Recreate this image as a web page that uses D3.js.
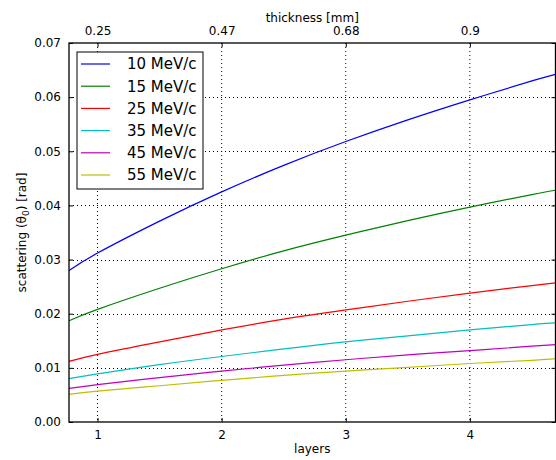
<!DOCTYPE html>
<html>
<head>
<meta charset="utf-8">
<script src="https://cdn.jsdelivr.net/npm/d3@7"></script>
<style>
  html, body { margin: 0; padding: 0; background: #fff; }
  svg { display: block; font-family: "DejaVu Sans", sans-serif; }
</style>
</head>
<body>
<svg id="chart" width="556" height="460"></svg>
<script>
// ---- data ----
const layers = [0.77, 1, 1.5, 2, 2.5, 3, 3.5, 4, 4.5, 4.69];
const seriesNames = ["10 MeV/c", "15 MeV/c", "25 MeV/c", "35 MeV/c", "45 MeV/c", "55 MeV/c"];
const seriesColors = ["#0000ff", "#008000", "#ff0000", "#00bfbf", "#bf00bf", "#bfbf00"];
const s10 = [0.0280, 0.0312, 0.0371, 0.0425, 0.0474, 0.0518, 0.0558, 0.0595, 0.0630, 0.0642];
const s15 = [0.0187, 0.0208, 0.0247, 0.0283, 0.0316, 0.0345, 0.0372, 0.0397, 0.0420, 0.0428];
const s25 = [0.0112, 0.0125, 0.0148, 0.0170, 0.0190, 0.0207, 0.0223, 0.0238, 0.0252, 0.0257];
const s35 = [0.0080, 0.0089, 0.0106, 0.0121, 0.0135, 0.0148, 0.0159, 0.0170, 0.0180, 0.0183];
const s45 = [0.0062, 0.0069, 0.0082, 0.0094, 0.0105, 0.0115, 0.0124, 0.0132, 0.0140, 0.0143];
const s55 = [0.0051, 0.0057, 0.0067, 0.0077, 0.0086, 0.0094, 0.0101, 0.0108, 0.0114, 0.0117];
const seriesValues = [s10, s15, s25, s35, s45, s55];
const xTicks = [1, 2, 3, 4];
const thicknessLabels = ["0.25", "0.47", "0.68", "0.9"];
const yTicks = [0, 0.01, 0.02, 0.03, 0.04, 0.05, 0.06, 0.07];

// ---- layout ----
const L = 69, R = 555.5, T = 43, B = 422;
const svg = d3.select("#chart");
const x = d3.scaleLinear().domain([0.77, 4.69]).range([L, R]);
const y = d3.scaleLinear().domain([0, 0.07]).range([B, T]);

// grid
const grid = svg.append("g");
grid.selectAll("line.gx").data(xTicks).enter().append("line")
  .attr("x1", d => x(d)).attr("x2", d => x(d)).attr("y1", T).attr("y2", B)
  .attr("stroke", "#000").attr("stroke-width", 1).attr("stroke-dasharray", "1,3");
grid.selectAll("line.gy").data(yTicks.slice(1, -1)).enter().append("line")
  .attr("x1", L).attr("x2", R).attr("y1", d => Math.round(y(d)) + 0.5).attr("y2", d => Math.round(y(d)) + 0.5)
  .attr("stroke", "#000").attr("stroke-width", 1).attr("stroke-dasharray", "1,3");

// curves
const line = d3.line().x((d, i) => x(layers[i])).y(d => y(d)).curve(d3.curveNatural);
const plot = svg.append("g");
seriesValues.forEach((vals, k) => {
  plot.append("path").datum(vals).attr("d", line)
    .attr("fill", "none").attr("stroke", seriesColors[k]).attr("stroke-width", 1.2);
});

// axes (ticks inward)
const fmtY = d3.format(".2f");
const axisStyle = g => {
  g.select(".domain").remove();
  g.selectAll("text").attr("font-size", 12).attr("fill", "#000").attr("font-family", "DejaVu Sans");
  g.selectAll("line").attr("stroke", "#000");
};
svg.append("g").attr("transform", `translate(0,${B})`)
  .call(d3.axisBottom(x).tickValues(xTicks).tickFormat(d3.format("d")).tickSizeInner(-4).tickPadding(8))
  .call(axisStyle);
svg.append("g").attr("transform", `translate(0,${T})`)
  .call(d3.axisTop(x).tickValues(xTicks).tickFormat((d, i) => thicknessLabels[i]).tickSizeInner(-4).tickPadding(8))
  .call(axisStyle);
svg.append("g").attr("transform", `translate(${L},0)`)
  .call(d3.axisLeft(y).tickValues(yTicks).tickFormat(fmtY).tickSizeInner(-4).tickPadding(8))
  .call(axisStyle);
svg.append("g").attr("transform", `translate(${R},0)`)
  .call(d3.axisRight(y).tickValues(yTicks).tickFormat("").tickSizeInner(-4))
  .call(axisStyle);

// frame
svg.append("rect").attr("x", L).attr("y", T).attr("width", R - L).attr("height", B - T)
  .attr("fill", "none").attr("stroke", "#000").attr("stroke-width", 1.3);

// axis labels
svg.append("text").attr("x", (L + R) / 2).attr("y", 22).attr("text-anchor", "middle")
  .attr("font-size", 12).text("thickness [mm]");
svg.append("text").attr("x", (L + R) / 2).attr("y", 453).attr("text-anchor", "middle")
  .attr("font-size", 12).text("layers");
const yl = svg.append("text").attr("transform", `translate(26,${(T + B) / 2}) rotate(-90)`)
  .attr("text-anchor", "middle").attr("font-size", 12);
yl.append("tspan").text("scattering (θ");
yl.append("tspan").attr("font-size", 9).attr("dy", 3).text("0");
yl.append("tspan").attr("dy", -3).text(") [rad]");

// legend
const lg = svg.append("g");
lg.append("rect").attr("x", 77).attr("y", 52).attr("width", 126).attr("height", 137)
  .attr("fill", "#fff").attr("stroke", "#000").attr("stroke-width", 1);
seriesNames.forEach((name, k) => {
  const cy = 64 + k * 22.2;
  lg.append("line").attr("x1", 81).attr("x2", 110).attr("y1", cy).attr("y2", cy)
    .attr("stroke", seriesColors[k]).attr("stroke-width", 1.2);
  lg.append("text").attr("x", 127).attr("y", cy).attr("dy", "0.36em")
    .attr("font-size", 15).text(name);
});
</script>
</body>
</html>
